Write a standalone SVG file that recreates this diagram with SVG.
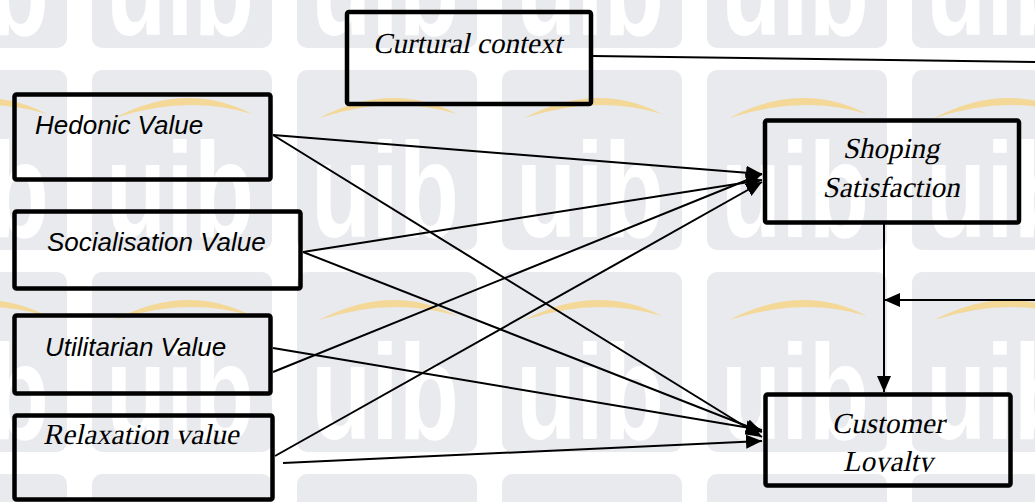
<svg xmlns="http://www.w3.org/2000/svg" width="1035" height="502" viewBox="0 0 1035 502">
  <style>
    .box { fill: none; stroke: #000; stroke-width: 4.5; }
    .link { fill: none; stroke: #000; stroke-width: 2; }
    .arrow { marker-end: url(#head); }
    .sans { font-family: 'Liberation Sans', Arial, sans-serif; font-style: italic; font-size: 26px; fill: #000; }
    /* slanted roman face for the serif labels */
    .rom { font-family: 'Liberation Serif', 'Times New Roman', serif; font-size: 29px; fill: #000; }
    .mid { text-anchor: middle; }
    .mark { font-family: 'Liberation Sans', Arial, sans-serif; font-weight: bold; font-size: 136px; fill: #fff; }
  </style>
  <defs>
    <marker id="head" markerUnits="userSpaceOnUse" markerWidth="16" markerHeight="14" refX="16" refY="7" orient="auto">
      <path d="M0,0 L16,7 L0,14 Z" fill="#000"/>
    </marker>
    <!-- repeating background tile: grey block, arc and lettering -->
    <pattern id="tile" patternUnits="userSpaceOnUse" x="92" y="70" width="205" height="202">
      <rect x="0" y="0" width="180" height="180" rx="10" fill="#e8eaed"/>
      <path d="M22,48 Q95,10 160,44 Q95,24 22,48 Z" fill="#f4d898"/>
      <text class="mark" x="14" y="167" textLength="148" lengthAdjust="spacingAndGlyphs">uib</text>
    </pattern>
    <clipPath id="clip-loyalty">
      <rect x="765" y="394" width="246" height="78"/>
    </clipPath>
  </defs>

  <rect width="1035" height="502" fill="#fff"/>
  <rect id="watermark" width="1035" height="502" fill="url(#tile)"/>

  <g id="connectors">
    <!-- cultural context line and moderating arrow -->
    <line class="link" x1="593" y1="56" x2="1035" y2="62"/>
    <line class="link arrow" x1="1035" y1="300" x2="884" y2="300"/>
    <!-- satisfaction to loyalty -->
    <line class="link arrow" x1="884" y1="224" x2="884" y2="392"/>
    <!-- values to satisfaction -->
    <line class="link arrow" x1="273" y1="135" x2="762" y2="174"/>
    <line class="link arrow" x1="303" y1="252" x2="762" y2="180"/>
    <line class="link arrow" x1="273" y1="372" x2="762" y2="174"/>
    <line class="link arrow" x1="275" y1="456" x2="762" y2="182"/>
    <!-- values to loyalty -->
    <line class="link arrow" x1="273" y1="135" x2="762" y2="437"/>
    <line class="link arrow" x1="303" y1="252" x2="762" y2="432"/>
    <line class="link arrow" x1="273" y1="348" x2="762" y2="430"/>
    <line class="link arrow" x1="283" y1="463" x2="762" y2="441"/>
  </g>

  <g id="node-cultural">
    <rect class="box" x="347" y="12" width="244" height="92" rx="2"/>
    <text class="rom" transform="translate(373,53) skewX(-12)">Curtural context</text>
  </g>
  <g id="node-hedonic">
    <rect class="box" x="14.5" y="94.5" width="256" height="85" rx="2"/>
    <text class="sans" x="35" y="134">Hedonic Value</text>
  </g>
  <g id="node-socialisation">
    <rect class="box" x="14.5" y="211.5" width="286" height="77" rx="2"/>
    <text class="sans" x="47" y="251">Socialisation Value</text>
  </g>
  <g id="node-utilitarian">
    <rect class="box" x="14.5" y="315.5" width="256" height="78" rx="2"/>
    <text class="sans" x="45" y="356">Utilitarian Value</text>
  </g>
  <g id="node-relaxation">
    <rect class="box" x="14.5" y="415.5" width="258" height="84" rx="2"/>
    <text class="rom" transform="translate(43,444) skewX(-12)">Relaxation value</text>
  </g>
  <g id="node-satisfaction">
    <rect class="box" x="765" y="120.5" width="254" height="102" rx="2"/>
    <text class="rom mid" transform="translate(891,158) skewX(-12)">Shoping</text>
    <text class="rom mid" transform="translate(891,197) skewX(-12)">Satisfaction</text>
  </g>
  <g id="node-loyalty">
    <rect class="box" x="765.5" y="394.5" width="245" height="91" rx="2"/>
    <text class="rom mid" transform="translate(888,433) skewX(-12)">Customer</text>
    <g clip-path="url(#clip-loyalty)">
      <text class="rom mid" transform="translate(888,471) skewX(-12)">Loyalty</text>
    </g>
  </g>
</svg>
